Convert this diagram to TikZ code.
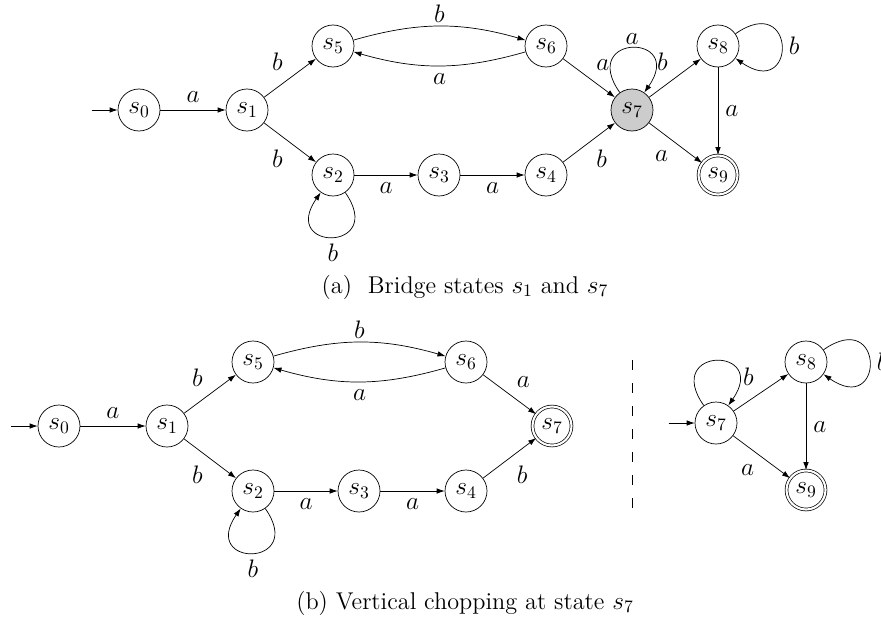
\documentclass[tikz,border=0pt,12pt]{standalone}
\usetikzlibrary{positioning,arrows.meta}
\begin{document}
\begin{tikzpicture}[
      font=\fontsize{13.8pt}{16.5pt}\selectfont,
      >={Latex[length=1.6mm,width=1.1mm]},
      node distance=1.28cm and 1.72cm, on grid,
      st/.style={draw, circle, minimum size=0.84cm, inner sep=0pt},
      acc/.style={st, double, double distance=1.2pt, minimum size=0.78cm},
      bridge/.style={st, fill=black!20},
      lpup/.style={out=125, in=55, looseness=1, min distance=1.45cm},
      lpdown/.style={out=-55, in=-125, looseness=1, min distance=1.45cm},
      lpright/.style={out=35, in=-35, looseness=1, min distance=1.5cm}
  ]
    \useasboundingbox (0,0) rectangle (17.62,-12.44);

    % (a) bridge states
    \node[st] (a0) at (2.78,-2.2) {$s_0$};
    \node[st, right=2.16cm of a0] (a1) {$s_1$};
    \node[st, above right=of a1] (a5) {$s_5$};
    \node[st, below right=1.3cm and 1.72cm of a1] (a2) {$s_2$};
    \node[st, right=2.12cm of a2] (a3) {$s_3$};
    \node[st, right=2.14cm of a3] (a4) {$s_4$};
    \node[st, right=4.26cm of a5] (a6) {$s_6$};
    \node[bridge, below right=of a6] (a7) {$s_7$};
    \node[st, above right=of a7] (a8) {$s_8$};
    \node[acc, below=2.58cm of a8] (a9) {$s_9$};
    \coordinate[left=0.95cm of a0] (a0in);

    \draw[->] (a0in) -- (a0);
    \draw[->] (a0) -- node[auto] {$a$} (a1);
    \draw[->] (a1) -- node[auto] {$b$} (a5);
    \draw[->] (a1) -- node[auto, swap] {$b$} (a2);
    \draw[->] (a2) -- node[auto, swap] {$a$} (a3);
    \draw[->] (a3) -- node[auto, swap] {$a$} (a4);
    \draw[->] (a5) to[bend left=16] node[auto, inner sep=2pt] {$b$} (a6);
    \draw[->] (a6) to[bend left=16] node[auto] {$a$} (a5);
    \draw[->] (a2) to[lpdown] node[below] {$b$} (a2);
    \draw[->] (a6) -- node[auto] {$a$} (a7);
    \draw[->] (a4) -- node[auto, swap] {$b$} (a7);
    \draw[->] (a7) to[lpup] node[above, inner sep=2pt] {$a$} (a7);
    \draw[->] (a7) -- node[auto] {$b$} (a8);
    \draw[->] (a7) -- node[auto, swap] {$a$} (a9);
    \draw[->] (a8) -- node[auto] {$a$} (a9);
    \draw[->] (a8) to[lpright] node[right] {$b$} (a8);

    \node (capa) at (9.3,-5.74) {(a)\ \ Bridge states $s_1$ and $s_7$};

    % (b) vertical chopping
    \node[st] (b0) at (1.18,-8.52) {$s_0$};
    \node[st, right=2.16cm of b0] (b1) {$s_1$};
    \node[st, above right=of b1] (b5) {$s_5$};
    \node[st, below right=1.3cm and 1.72cm of b1] (b2) {$s_2$};
    \node[st, right=2.12cm of b2] (b3) {$s_3$};
    \node[st, right=2.14cm of b3] (b4) {$s_4$};
    \node[st, right=4.26cm of b5] (b6) {$s_6$};
    \node[acc, below right=of b6] (b7) {$s_7$};
    \coordinate[left=0.95cm of b0] (b0in);

    \draw[->] (b0in) -- (b0);
    \draw[->] (b0) -- node[auto] {$a$} (b1);
    \draw[->] (b1) -- node[auto] {$b$} (b5);
    \draw[->] (b1) -- node[auto, swap] {$b$} (b2);
    \draw[->] (b2) -- node[auto, swap] {$a$} (b3);
    \draw[->] (b3) -- node[auto, swap] {$a$} (b4);
    \draw[->] (b5) to[bend left=16] node[auto, inner sep=2pt] {$b$} (b6);
    \draw[->] (b6) to[bend left=16] node[auto] {$a$} (b5);
    \draw[->] (b2) to[lpdown] node[below] {$b$} (b2);
    \draw[->] (b6) -- node[auto] {$a$} (b7);
    \draw[->] (b4) -- node[auto, swap] {$b$} (b7);

    \draw[dash pattern=on 0.2cm off 0.26cm] (12.64,-7.2) -- (12.64,-10.16);

    \node[st] (c7) at (14.32,-8.46) {$s_7$};
    \node[st, above right=1.22cm and 1.8cm of c7] (c8) {$s_8$};
    \node[acc, below=2.56cm of c8] (c9) {$s_9$};
    \coordinate[left=0.95cm of c7] (c7in);

    \draw[->] (c7in) -- (c7);
    \draw[->] (c7) to[lpup] (c7);
    \draw[->] (c7) -- node[auto] {$b$} (c8);
    \draw[->] (c7) -- node[auto, swap] {$a$} (c9);
    \draw[->] (c8) -- node[auto] {$a$} (c9);
    \draw[->] (c8) to[lpright] node[right] {$b$} (c8);

    \node (capb) at (9.3,-12.06) {(b) Vertical chopping at state $s_7$};
  \end{tikzpicture}
\end{document}
